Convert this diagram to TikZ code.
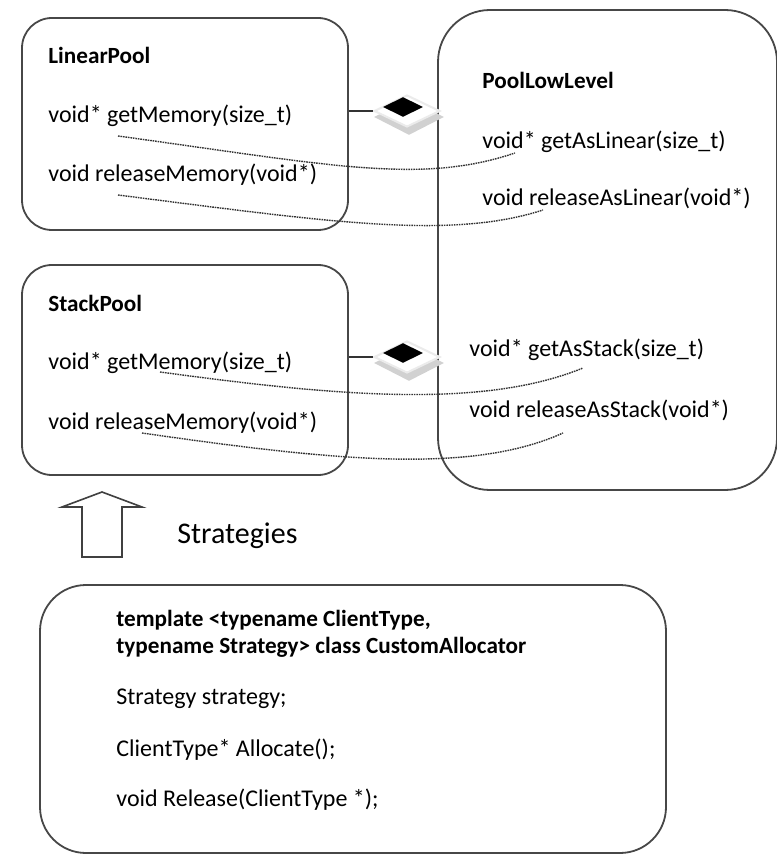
\documentclass[tikz,border=0pt]{standalone}
\usepackage{fontspec}
\setmainfont{Carlito}
\usetikzlibrary{fit,shapes.geometric}
\begin{document}
\begin{tikzpicture}[x=0.5pt,y=-0.5pt,
  box/.style={draw=black!72, line width=0.9pt, inner sep=0pt, fill=white},
  txt/.style={anchor=west, inner sep=0pt, font=\fontsize{12}{15}\selectfont},
  hd/.style={anchor=west, inner sep=0pt, font=\fontsize{11.6}{15}\selectfont\bfseries},
  link/.style={black!80, line width=0.7pt, dash pattern=on 0.8pt off 0.45pt},
  conn/.style={black!80, line width=0.8pt},
  shadowdia/.style={diamond, fill=black!18, inner sep=0pt, minimum width=35pt, minimum height=18pt},
  whitedia/.style={diamond, fill=white, draw=black!8, line width=1pt, inner sep=0pt, minimum width=33pt, minimum height=16pt},
  blackdia/.style={diamond, fill=black, inner sep=0pt, minimum width=20pt, minimum height=10pt}
]
\useasboundingbox (0,0) rectangle (776,855);

% boxes
\node[box, rounded corners=15pt, fit={(22,18) (348,230)}] (lp) {};
\node[box, rounded corners=15pt, fit={(22,265) (348,475)}] (sp) {};
\node[box, rounded corners=26pt, fit={(438,10) (777,490)}] (pl) {};
\node[box, rounded corners=23pt, fit={(40,585) (666,853)}] (ca) {};

% LinearPool texts
\node[hd]  (lpt) at (48,55)  {LinearPool};
\node[txt] (lpg) at (48,116) {void* getMemory(size\_t)};
\node[txt] (lpr) at (48,175) {void releaseMemory(void*)};

% StackPool texts
\node[hd]  (spt) at (48,303) {StackPool};
\node[txt] (spg) at (48,363) {void* getMemory(size\_t)};
\node[txt] (spr) at (48,423) {void releaseMemory(void*)};

% PoolLowLevel texts
\node[hd]  (plt) at (482,80)  {PoolLowLevel};
\node[txt] (plg) at (482,142) {void* getAsLinear(size\_t)};
\node[txt] (plr) at (482,198) {void releaseAsLinear(void*)};
\node[txt] (psg) at (469,350) {void* getAsStack(size\_t)};
\node[txt] (psr) at (469,410) {void releaseAsStack(void*)};

% CustomAllocator texts
\node[hd]  (ca1) at (116,620) {template <typename ClientType,};
\node[hd]  (ca2) at (116,647) {typename Strategy> class CustomAllocator};
\node[txt] (ca3) at (116,699) {Strategy strategy;};
\node[txt] (ca4) at (116,750) {ClientType* Allocate();};
\node[txt] (ca5) at (116,800) {void Release(ClientType *);};

% composition diamonds
\node[shadowdia] (s1) at (409,117) {};
\node[whitedia]  (w1) at (407,111) {};
\node[blackdia]  (b1) at (403,107) {};
\draw[conn] (w1.west) -- (w1.west -| lp.east);

\node[shadowdia] (s2) at (409,363) {};
\node[whitedia]  (w2) at (407,357) {};
\node[blackdia]  (b2) at (403,353) {};
\draw[conn] (w2.west) -- (w2.west -| sp.east);

% dotted mapping curves
\coordinate (a1) at (118,136);
\coordinate (a2) at (515,153);
\coordinate (b1s) at (118,195);
\coordinate (b2s) at (543,210);
\coordinate (c1) at (160,372);
\coordinate (c2) at (583,368);
\coordinate (d1) at (142,433);
\coordinate (d2) at (563,433);
\draw[link] (a1) .. controls (330,165) and (420,185) .. (a2);
\draw[link] (b1s) .. controls (330,222) and (450,240) .. (b2s);
\draw[link] (c1) .. controls (330,395) and (480,410) .. (c2);
\draw[link] (d1) .. controls (330,460) and (470,475) .. (d2);

% strategies arrow
\draw[black!75, line width=0.8pt, fill=white, line join=miter]
  (102,492) -- (142,507) -- (122,507) -- (122,557) -- (82,557) -- (82,507) -- (62,507) -- cycle;
\node[anchor=west, inner sep=0pt, font=\fontsize{15}{18}\selectfont] (st) at (177,536) {Strategies};
\end{tikzpicture}
\end{document}
